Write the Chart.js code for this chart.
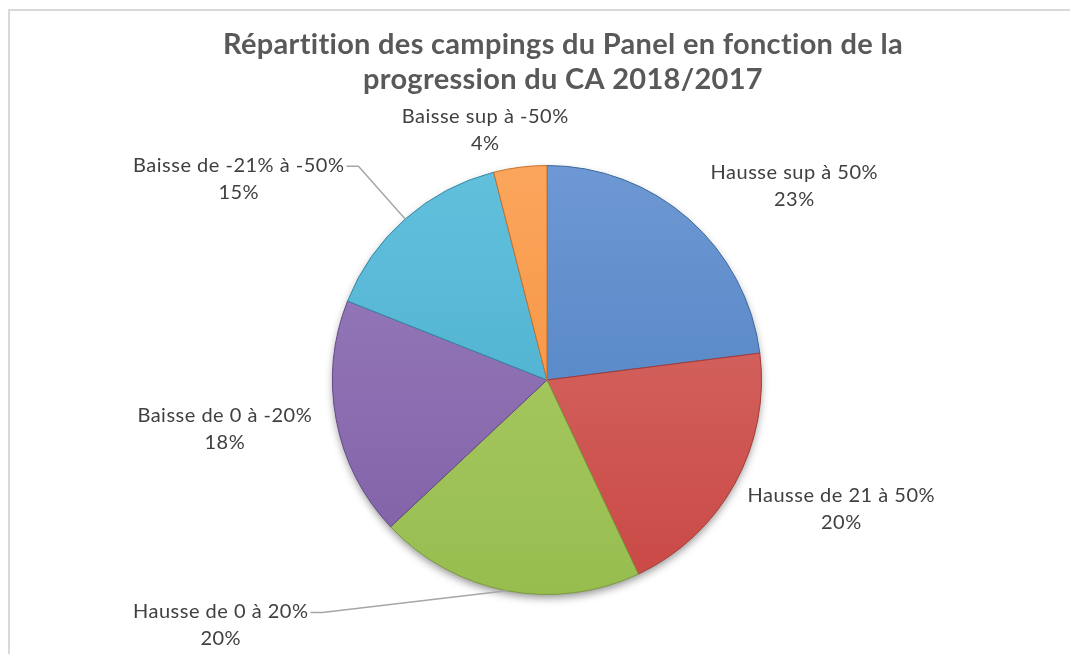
<!DOCTYPE html>
<html lang="fr">
<head>
<meta charset="utf-8">
<title>Répartition des campings</title>
<script src="https://cdn.jsdelivr.net/npm/chart.js@4/dist/chart.umd.min.js"></script>
<style>
    html, body { margin: 0; padding: 0; background: #fff; }
    #wrap { position: absolute; left: 0; top: 0; width: 1070px; height: 654px; }
    #cadre { position: absolute; left: 8px; top: 9px; width: 1070px; height: 660px;
             border-left: 2px solid #d9d9d9; border-top: 2px solid #d9d9d9; }
    canvas { position: absolute; left: 0; top: 0; }
</style>
</head>
<body>
<div id="wrap">
    <div id="cadre"></div>
    <canvas id="graphique" width="1070" height="654"></canvas>
</div>
<script>
const titre = ["Répartition des campings du Panel en fonction de la", "progression du CA 2018/2017"];
const categories = ["Hausse sup à 50%", "Hausse de 21 à 50%", "Hausse de 0 à 20%",
                    "Baisse de 0 à -20%", "Baisse de -21% à -50%", "Baisse sup à -50%"];
const valeurs = [23, 20, 20, 18, 15, 4];

// couleurs (haut / bas du dégradé, bordure)
const couleursHaut = ["#6d98d3", "#d9716d", "#b0cf6a", "#9a7fbe", "#62c0dc", "#fba55c"];
const couleursBas  = ["#4a7dbf", "#c94844", "#97bd4f", "#7f5fa5", "#45aacb", "#f38d34"];
const couleursBord = ["#3c68a0", "#a43a37", "#7a9a3e", "#644a86", "#3589a6", "#c9722a"];

// position des étiquettes, en rayons par rapport au centre du camembert
const posEtiquettes = [[1.153, -0.907], [1.372, 0.600], [-1.521, 1.140],
                       [-1.502, 0.228], [-1.437, -0.940], [-0.288, -1.167]];
const avecTrait = [false, false, true, false, true, false];

const police = "Lato, 'Open Sans', sans-serif";

const pluginTitre = {
    id: "titre",
    afterDraw(chart) {
        const ctx = chart.ctx;
        ctx.save();
        ctx.fillStyle = "#595959";
        ctx.font = "bold 29px " + police;
        ctx.letterSpacing = "0.3px";
        ctx.textAlign = "center";
        ctx.textBaseline = "middle";
        titre.forEach((ligne, i) => ctx.fillText(ligne, 563, 45 + i * 35));
        ctx.restore();
    }
};

const pluginOmbre = {
    id: "ombre",
    beforeDatasetsDraw(chart) {
        const arc = chart.getDatasetMeta(0).data[0];
        if (!arc) return;
        const { x, y, outerRadius } = arc.getProps(["x", "y", "outerRadius"], true);
        const ctx = chart.ctx;
        ctx.save();
        ctx.shadowColor = "rgba(0,0,0,0.45)";
        ctx.shadowBlur = 9;
        ctx.shadowOffsetY = 4;
        ctx.beginPath();
        ctx.arc(x, y, outerRadius - 1, 0, Math.PI * 2);
        ctx.fillStyle = "#888";
        ctx.fill();
        ctx.restore();
    }
};

const pluginEtiquettes = {
    id: "etiquettes",
    afterDatasetsDraw(chart) {
        const ctx = chart.ctx;
        const total = valeurs.reduce((a, b) => a + b, 0);
        const meta = chart.getDatasetMeta(0);
        ctx.save();
        ctx.font = "20px " + police;
        ctx.letterSpacing = "0.5px";
        ctx.fillStyle = "#404040";
        ctx.textAlign = "center";
        ctx.textBaseline = "middle";
        meta.data.forEach((arc, i) => {
            const p = arc.getProps(["x", "y", "outerRadius", "startAngle", "endAngle"], true);
            const cx = p.x + posEtiquettes[i][0] * p.outerRadius;
            const cy = p.y + posEtiquettes[i][1] * p.outerRadius;
            const y1 = cy - 13, y2 = cy + 14;
            ctx.fillText(categories[i], cx, y1);
            ctx.fillText(Math.round(valeurs[i] / total * 100) + "%", cx, y2);
            if (avecTrait[i]) {
                const larg = ctx.measureText(categories[i]).width;
                const milieu = (p.startAngle + p.endAngle) / 2;
                const ax = p.x + Math.cos(milieu) * p.outerRadius;
                const ay = p.y + Math.sin(milieu) * p.outerRadius;
                const dx = cx + larg / 2 + 2;
                ctx.beginPath();
                ctx.moveTo(dx, y1 + 1);
                ctx.lineTo(dx + 12, y1 + 1);
                ctx.lineTo(ax, ay);
                ctx.strokeStyle = "#a6a6a6";
                ctx.lineWidth = 1.5;
                ctx.stroke();
            }
        });
        ctx.restore();
    }
};

function degrade(context) {
    const i = context.dataIndex;
    const zone = context.chart.chartArea;
    if (!zone) return couleursBas[i];
    const g = context.chart.ctx.createLinearGradient(0, zone.top, 0, zone.bottom);
    g.addColorStop(0, couleursHaut[i]);
    g.addColorStop(1, couleursBas[i]);
    return g;
}

new Chart(document.getElementById("graphique"), {
    type: "pie",
    data: {
        labels: categories,
        datasets: [{
            data: valeurs,
            backgroundColor: degrade,
            borderColor: couleursBord,
            borderWidth: 1
        }]
    },
    options: {
        responsive: false,
        animation: false,
        layout: { padding: { top: 165, bottom: 59, left: 332, right: 308 } },
        plugins: {
            legend: { display: false },
            tooltip: { enabled: false },
            title: { display: false }
        }
    },
    plugins: [pluginOmbre, pluginEtiquettes, pluginTitre]
});
</script>
</body>
</html>
